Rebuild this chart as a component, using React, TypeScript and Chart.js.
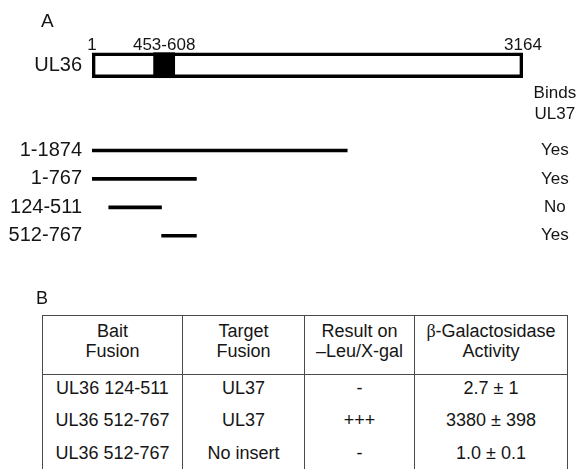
import React, { useEffect, useRef } from 'react';
import { Chart, registerables } from 'chart.js';

Chart.register(...registerables);

// ---- Panel A data ----
const proteinName = 'UL36';
const proteinStart = 1;
const proteinEnd = 3164;
const domainStart = 453;
const domainEnd = 608;
const fragmentStarts = [1, 1, 124, 512];
const fragmentEnds = [1874, 767, 511, 767];
const bindsUL37 = ['Yes', 'Yes', 'No', 'Yes'];
const bindsHeader = ['Binds', 'UL37'];
const blankRows = 2;

// ---- Panel B data ----
const headerBait = ['Bait', 'Fusion'];
const headerTarget = ['Target', 'Fusion'];
const headerResult = ['Result on', '\u2013Leu/X-gal'];
const headerActivity = ['-Galactosidase', 'Activity'];
const baitFusions = ['UL36 124-511', 'UL36 512-767', 'UL36 512-767'];
const targetFusions = ['UL37', 'UL37', 'No insert'];
const leuXgalResults = ['-', '+++', '-'];
const betaGalActivity = ['2.7 \u00b1 1', '3380 \u00b1 398', '1.0 \u00b1 0.1'];

const FONT = '"Liberation Sans", Arial, Helvetica, sans-serif';
const TEXT = '#151515';

const fragmentLabels = fragmentStarts.map((s, i) => `${s}-${fragmentEnds[i]}`);
const rowLabels = [proteinName, ...Array(blankRows).fill(''), ...fragmentLabels];
const firstFrag = 1 + blankRows;
const rightLabels = [...Array(firstFrag).fill(''), ...bindsUL37];

const boxData = rowLabels.map((_, i) => (i === 0 ? [proteinStart, proteinEnd] : null));
const domainData = rowLabels.map((_, i) => (i === 0 ? [domainStart, domainEnd] : null));
const fragData = rowLabels.map((_, i) =>
  i >= firstFrag ? [fragmentStarts[i - firstFrag], fragmentEnds[i - firstFrag]] : null
);

const markerValues = [proteinStart, (domainStart + domainEnd) / 2, proteinEnd];
const markerLabels = [String(proteinStart), `${domainStart}-${domainEnd}`, String(proteinEnd)];

const headerPlugin = {
  id: 'bindsHeader',
  afterDraw(chart: any) {
    const y2 = chart.scales.y2;
    const y = chart.scales.y;
    const items = y2.getLabelItems();
    const it = items.find((i: any) => i.label !== '');
    const x = it ? it.options.translation[0] : (y2.left + y2.right) / 2;
    const ctx = chart.ctx;
    ctx.save();
    ctx.font = `17px ${FONT}`;
    ctx.fillStyle = TEXT;
    ctx.textAlign = 'center';
    ctx.textBaseline = 'middle';
    const y0 = y.getPixelForValue(1);
    bindsHeader.forEach((t, k) => ctx.fillText(t, x, y0 + k * 21));
    ctx.restore();
  },
};

function PanelA() {
  const ref = useRef<HTMLCanvasElement>(null);
  useEffect(() => {
    const chart = new Chart(ref.current as HTMLCanvasElement, {
      type: 'bar',
      data: {
        labels: rowLabels,
        datasets: [
          {
            label: 'box',
            data: boxData as any,
            backgroundColor: 'rgba(0,0,0,0)',
            borderColor: '#000',
            borderWidth: 3,
            borderSkipped: false,
            barThickness: 25,
            grouped: false,
            xAxisID: 'x',
            yAxisID: 'y',
          },
          {
            label: 'domain',
            data: domainData as any,
            backgroundColor: '#000',
            borderWidth: 0,
            barThickness: 25,
            grouped: false,
            xAxisID: 'x',
            yAxisID: 'y',
          },
          {
            label: 'fragments',
            data: fragData as any,
            backgroundColor: '#000',
            borderWidth: 0,
            barThickness: 3,
            grouped: false,
            xAxisID: 'x',
            yAxisID: 'y',
          },
        ],
      },
      options: {
        indexAxis: 'y',
        responsive: false,
        animation: false,
        events: [],
        layout: { padding: { top: 31, bottom: 20, left: 0, right: 0 } },
        plugins: { legend: { display: false }, tooltip: { enabled: false }, title: { display: false } },
        scales: {
          x: {
            type: 'linear',
            position: 'top',
            min: proteinStart,
            max: proteinEnd,
            grid: { display: false, drawTicks: false },
            border: { display: false },
            afterBuildTicks: (s: any) => {
              s.ticks = markerValues.map((v) => ({ value: v }));
            },
            afterFit: (s: any) => {
              s.height = 20;
              s.paddingLeft = 0;
              s.paddingRight = 0;
            },
            ticks: {
              autoSkip: false,
              maxRotation: 0,
              padding: -3,
              color: TEXT,
              font: { family: FONT, size: 17, lineHeight: 1 },
              callback: (_v: any, i: number) => markerLabels[i],
            },
          },
          y: {
            type: 'category',
            position: 'left',
            offset: true,
            grid: { display: false, drawTicks: false },
            border: { display: false },
            afterFit: (s: any) => {
              s.width = 92;
              s.paddingTop = 0;
              s.paddingBottom = 0;
            },
            ticks: {
              autoSkip: false,
              padding: 10,
              color: TEXT,
              font: { family: FONT, size: 20 },
            },
          },
          y2: {
            type: 'category',
            position: 'right',
            labels: rightLabels,
            offset: true,
            grid: { display: false, drawTicks: false },
            border: { display: false },
            afterFit: (s: any) => {
              s.width = 64;
              s.paddingTop = 0;
              s.paddingBottom = 0;
            },
            ticks: {
              autoSkip: false,
              padding: 18,
              crossAlign: 'center',
              color: TEXT,
              font: { family: FONT, size: 17 },
            },
          },
        },
      },
      plugins: [headerPlugin],
    } as any);
    return () => chart.destroy();
  }, []);
  return (
    <canvas
      ref={ref}
      width={587}
      height={270}
      style={{ position: 'absolute', left: 0, top: 0, width: 587, height: 270, display: 'block' }}
    />
  );
}

const cellBorder = '1px solid #4a4a4a';

function PanelB() {
  const th: React.CSSProperties = {
    border: cellBorder,
    padding: '0 0 8px 0',
    fontWeight: 'normal',
    lineHeight: '20px',
    textAlign: 'center',
    verticalAlign: 'middle',
  };
  const td: React.CSSProperties = {
    border: cellBorder,
    borderTop: 'none',
    borderBottom: 'none',
    padding: '0 0 6px 0',
    lineHeight: '20px',
    textAlign: 'center',
    verticalAlign: 'middle',
    whiteSpace: 'nowrap',
  };
  const two = (lines: string[], beta = false) => (
    <>
      {beta && <span style={{ fontFamily: '"Liberation Serif", "Times New Roman", serif' }}>{'\u03b2'}</span>}
      {lines[0]}
      <br />
      {lines[1]}
    </>
  );
  return (
    <table
      style={{
        position: 'absolute',
        left: 42,
        top: 315,
        width: 525,
        borderCollapse: 'collapse',
        tableLayout: 'fixed',
        fontFamily: FONT,
        fontSize: 18,
        color: TEXT,
      }}
    >
      <colgroup>
        <col style={{ width: 140 }} />
        <col style={{ width: 122 }} />
        <col style={{ width: 110 }} />
        <col style={{ width: 153 }} />
      </colgroup>
      <thead>
        <tr style={{ height: 59 }}>
          <th style={th}>{two(headerBait)}</th>
          <th style={th}>{two(headerTarget)}</th>
          <th style={th}>{two(headerResult)}</th>
          <th style={th}>{two(headerActivity, true)}</th>
        </tr>
      </thead>
      <tbody>
        {baitFusions.map((b, i) => (
          <tr key={i} style={{ height: 32.5 }}>
            <td style={td}>{b}</td>
            <td style={td}>{targetFusions[i]}</td>
            <td style={td}>{leuXgalResults[i]}</td>
            <td style={td}>{betaGalActivity[i]}</td>
          </tr>
        ))}
      </tbody>
    </table>
  );
}

export default function App() {
  return (
    <div
      style={{
        position: 'fixed',
        left: 0,
        top: 0,
        width: 587,
        height: 469,
        background: '#fff',
        overflow: 'hidden',
        fontFamily: FONT,
        color: TEXT,
      }}
    >
      <PanelA />
      <div style={{ position: 'absolute', left: 41, top: 10, fontSize: 19, lineHeight: '22px' }}>A</div>
      <div style={{ position: 'absolute', left: 36, top: 287, fontSize: 18, lineHeight: '22px' }}>B</div>
      <PanelB />
    </div>
  );
}
